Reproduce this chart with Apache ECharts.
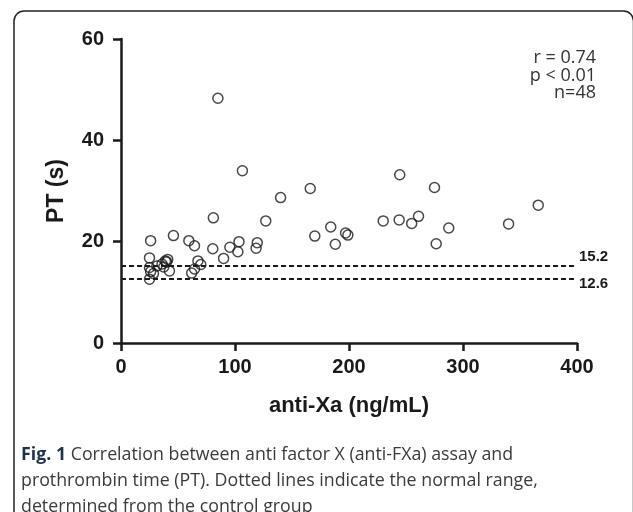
<!DOCTYPE html>
<html lang="en">
<head>
	<meta charset="UTF-8">
	<title>PT vs anti-Xa</title>
	<style>
		html, body { margin: 0; padding: 0; background: #fff; }
		#chart { width: 633px; height: 512px; }
	</style>
</head>
<body>
	<div id="chart"></div>
	<script src="https://cdn.jsdelivr.net/npm/echarts@6/dist/echarts.min.js"></script>
	<script type="text/javascript">
		// anti-Xa (ng/mL) and PT (s)
		var antiXa = [
			85, 106.5, 140, 166, 244.5, 275, 366,
			81, 127, 170, 184, 230, 244, 255, 261, 197, 199, 188, 276.5, 287.5, 340,
			26, 46, 59.5, 64.5, 80.5, 90, 95.5, 103.5, 102.5, 119.5, 118.5,
			25, 25, 26, 28.5, 25, 31.5, 36, 39, 41, 37.5, 42.5, 40,
			67.5, 70, 64.5, 62
		];
		var pt = [
			48.3, 34.0, 28.7, 30.5, 33.2, 30.7, 27.2,
			24.7, 24.1, 21.1, 22.9, 24.1, 24.3, 23.6, 25.0, 21.7, 21.3, 19.5, 19.6, 22.7, 23.5,
			20.2, 21.2, 20.2, 19.2, 18.6, 16.7, 18.9, 20.0, 18.0, 19.8, 18.7,
			16.8, 14.9, 14.1, 13.7, 12.6, 15.2, 15.6, 16.2, 16.5, 15.0, 14.2, 16.0,
			16.2, 15.5, 14.6, 13.8
		];
		var normalRange = [15.2, 12.6];
		var xTicks = [0, 100, 200, 300, 400];
		var yTicks = [0, 20, 40, 60];
		var stats = ['r = 0.74', 'p < 0.01', 'n=48'];

		var points = antiXa.map(function (x, i) { return [x, pt[i]]; });

		var chart = echarts.init(document.getElementById('chart'), null, { renderer: 'canvas' });
		var axisFont = 'Liberation Sans, Arial, sans-serif';

		// stats block, one right-aligned text per line
		var statTexts = stats.map(function (s, i) {
			return {
				type: 'text', silent: true,
				x: 596, y: 49 + i * 17.5,
				style: {
					text: s, align: 'right', verticalAlign: 'top',
					font: '18px "Open Sans", sans-serif', fill: '#333'
				}
			};
		});

		var option = {
			backgroundColor: '#fff',
			animation: false,
			grid: { left: 121, top: 39, right: 56, bottom: 169, containLabel: false },
			xAxis: {
				type: 'value',
				min: xTicks[0], max: xTicks[xTicks.length - 1], interval: 100,
				name: 'anti-Xa (ng/mL)', nameLocation: 'middle', nameGap: 52,
				nameTextStyle: { fontFamily: axisFont, fontWeight: 'bold', fontSize: 22, color: '#1a1a1a' },
				axisLine: { lineStyle: { color: '#1a1a1a', width: 2.5 } },
				axisTick: { length: 8, lineStyle: { color: '#1a1a1a', width: 2.5 } },
				axisLabel: { margin: 14, fontFamily: axisFont, fontWeight: 'bold', fontSize: 20, color: '#1a1a1a' },
				splitLine: { show: false }
			},
			yAxis: {
				type: 'value',
				min: yTicks[0], max: yTicks[yTicks.length - 1], interval: 20,
				name: 'PT (s)', nameLocation: 'middle', nameGap: 53,
				nameTextStyle: { fontFamily: axisFont, fontWeight: 'bold', fontSize: 23, color: '#1a1a1a' },
				axisLine: { lineStyle: { color: '#1a1a1a', width: 2.5 } },
				axisTick: { length: 8, lineStyle: { color: '#1a1a1a', width: 2.5 } },
				axisLabel: { margin: 17, fontFamily: axisFont, fontWeight: 'bold', fontSize: 20, color: '#1a1a1a' },
				splitLine: { show: false }
			},
			series: [
				{
					type: 'scatter',
					data: points,
					symbol: 'circle',
					symbolSize: 10,
					itemStyle: { color: 'rgba(0,0,0,0)', borderColor: '#1a1a1a', borderWidth: 1.5 },
					markLine: {
						silent: true,
						symbol: ['none', 'none'],
						lineStyle: { type: [5, 3], color: '#1a1a1a', width: 2.2 },
						data: [
							{ yAxis: normalRange[0], label: { offset: [0, -9] } },
							{ yAxis: normalRange[1], label: { offset: [0, 5] } }
						],
						label: {
							position: 'end', distance: 2,
							fontFamily: axisFont, fontWeight: 'bold', fontSize: 15, color: '#1a1a1a',
							formatter: function (p) { return p.value.toFixed(1); }
						}
					}
				}
			],
			graphic: [
				{
					type: 'rect', silent: true,
					shape: { x: 14, y: 11, width: 619.5, height: 540, r: 10 },
					style: { fill: 'none', stroke: '#222', lineWidth: 1.5 }
				},
				{
					type: 'text', silent: true, x: 21, y: 442,
					style: {
						text: '{b|Fig. 1} Correlation between anti factor X (anti-FXa) assay and\nprothrombin time (PT). Dotted lines indicate the normal range,\ndetermined from the control group',
						lineHeight: 26,
						font: '17.8px "Open Sans", sans-serif', fill: '#3a3a3a',
						rich: {
							b: { fontFamily: 'Open Sans', fontWeight: 'bold', fontSize: 17.8, fill: '#1f3347' }
						}
					}
				}
			].concat(statTexts)
		};
		chart.setOption(option);
	</script>
</body>
</html>
